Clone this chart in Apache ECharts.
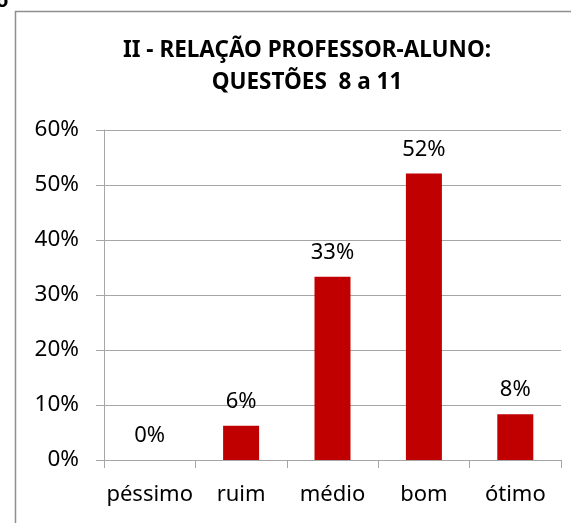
<!DOCTYPE html>
<html>
<head>
<meta charset="utf-8">
<script src="https://cdn.jsdelivr.net/npm/echarts@6/dist/echarts.min.js"></script>
<style>
  html, body { margin: 0; padding: 0; background: #fff; }
  #chart { width: 571px; height: 523px; }
</style>
</head>
<body>
<div id="chart"></div>
<script>
// Relação professor-aluno, questões 8 a 11
const categories = ['péssimo', 'ruim', 'médio', 'bom', 'ótimo'];
const percentValues = [0, 6.25, 33.33, 52.08, 8.33];
const yTicks = { min: 0, max: 60, step: 10 };
const titleLines = ['II - RELAÇÃO PROFESSOR-ALUNO:', 'QUESTÕES  8 a 11'];

const FONT = '"Noto Sans", "DejaVu Sans", sans-serif';

const chart = echarts.init(document.getElementById('chart'), null, { renderer: 'canvas' });

chart.setOption({
    backgroundColor: '#ffffff',
    animation: false,
    title: {
        text: titleLines.join('\n'),
        left: 302,
        top: 30,
        textAlign: 'center',
        textStyle: {
            fontFamily: FONT,
            fontSize: 22.5,
            fontWeight: 'bold',
            color: '#000',
            lineHeight: 32
        }
    },
    graphic: [
        {
            type: 'rect',
            silent: true,
            shape: { x: 15.5, y: 11.5, width: 620, height: 620 },
            style: { fill: 'none', stroke: '#8f8f8f', lineWidth: 1.5 }
        },
        {
            type: 'text',
            silent: true,
            left: -4,
            top: -9,
            style: { text: 'o', fill: '#000', font: 'bold 20px ' + FONT }
        }
    ],
    grid: { left: 104, right: 10, top: 130, bottom: 63 },
    xAxis: {
        type: 'category',
        data: categories,
        axisLine: { lineStyle: { color: '#a6a6a6', width: 1 } },
        axisTick: { show: true, length: 8, lineStyle: { color: '#a6a6a6' } },
        axisLabel: { interval: 0, color: '#000', fontFamily: FONT, fontSize: 22, margin: 24 },
        splitLine: { show: false }
    },
    yAxis: {
        type: 'value',
        min: yTicks.min,
        max: yTicks.max,
        interval: yTicks.step,
        axisLine: { show: true, lineStyle: { color: '#a6a6a6', width: 1 } },
        axisTick: { show: true, length: 8, lineStyle: { color: '#a6a6a6' } },
        axisLabel: {
            color: '#000', fontFamily: FONT, fontSize: 22.5, margin: 25,
            formatter: (v) => v + '%'
        },
        splitLine: { lineStyle: { color: '#a6a6a6', width: 1 } }
    },
    series: [{
        type: 'bar',
        data: percentValues,
        barWidth: 36,
        itemStyle: { color: '#c00000' },
        label: {
            show: true,
            position: 'top',
            distance: 13,
            color: '#000',
            fontFamily: FONT,
            fontSize: 22,
            formatter: (p) => Math.round(p.value) + '%'
        }
    }]
});
</script>
</body>
</html>
